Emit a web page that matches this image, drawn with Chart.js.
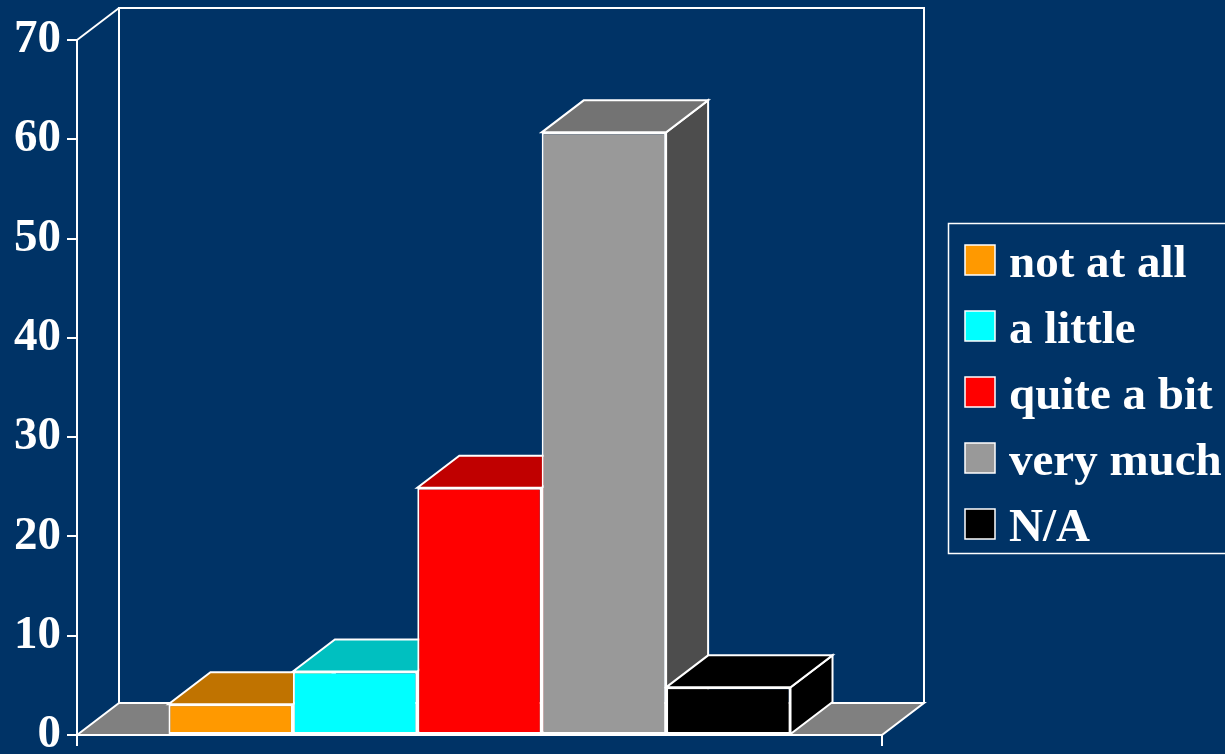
<!DOCTYPE html>
<html>
<head>
<meta charset="utf-8">
<script src="https://cdn.jsdelivr.net/npm/chart.js@4.4.0/dist/chart.umd.min.js"></script>
<style>
  html, body { margin: 0; padding: 0; background: #003366; }
  #wrap { width: 1225px; height: 754px; }
</style>
</head>
<body>
<div id="wrap"><canvas id="chart" width="1225" height="754"></canvas></div>
<script>
// data
const categories = ['not at all', 'a little', 'quite a bit', 'very much', 'N/A'];
const values = [3.1, 6.4, 24.9, 60.7, 4.8];
const yMin = 0;
const yMax = 70;
const yStep = 10;

// colours: front / top / side for each series
const frontColors = ['#ff9900', '#00ffff', '#ff0000', '#999999', '#000000'];
const topColors = ['#c07300', '#00c0c0', '#c00000', '#737373', '#000000'];
const sideColors = ['#804c00', '#008080', '#800000', '#4d4d4d', '#000000'];
const floorColor = '#808080';

// depth of the 3d box
const DX = 42;
const DY = -32;

function poly(ctx, pts, fill) {
  ctx.beginPath();
  ctx.moveTo(pts[0][0], pts[0][1]);
  for (let i = 1; i < pts.length; i++) ctx.lineTo(pts[i][0], pts[i][1]);
  ctx.closePath();
  ctx.fillStyle = fill;
  ctx.fill();
  ctx.stroke();
}

// walls, floor and the top/side faces of the bars
const depthPlugin = {
  id: 'depth3d',
  beforeDatasetsDraw(chart) {
    const ctx = chart.ctx;
    const a = chart.chartArea;
    const y0 = chart.scales.y.getPixelForValue(yMin);
    ctx.save();
    ctx.strokeStyle = '#ffffff';
    ctx.lineWidth = 2;
    ctx.lineJoin = 'miter';

    ctx.beginPath();
    ctx.moveTo(a.left + DX, y0 + DY);
    ctx.lineTo(a.left + DX, a.top + DY);
    ctx.lineTo(a.right + DX, a.top + DY);
    ctx.lineTo(a.right + DX, y0 + DY);
    ctx.stroke();

    ctx.beginPath();
    ctx.moveTo(a.left, a.top);
    ctx.lineTo(a.left + DX, a.top + DY);
    ctx.stroke();

    poly(ctx, [[a.left, y0], [a.left + DX, y0 + DY], [a.right + DX, y0 + DY], [a.right, y0]], floorColor);

    chart.data.datasets.forEach((ds, i) => {
      const meta = chart.getDatasetMeta(i);
      meta.data.forEach(bar => {
        const p = bar.getProps(['x', 'y', 'width', 'base'], true);
        const l = p.x - p.width / 2;
        const r = p.x + p.width / 2;
        poly(ctx, [[r, p.base], [r, p.y], [r + DX, p.y + DY], [r + DX, p.base + DY]], sideColors[i]);
        poly(ctx, [[l, p.y], [r, p.y], [r + DX, p.y + DY], [l + DX, p.y + DY]], topColors[i]);
      });
    });
    ctx.restore();
  }
};

// boxed legend on the right
const legendPlugin = {
  id: 'boxLegend',
  afterDraw(chart) {
    const ctx = chart.ctx;
    ctx.save();
    ctx.strokeStyle = '#ffffff';
    ctx.lineWidth = 1.5;
    ctx.strokeRect(948.5, 223.5, 300, 330);
    ctx.font = 'bold 47px "Liberation Serif", "Times New Roman", serif';
    ctx.textBaseline = 'alphabetic';
    ctx.textAlign = 'left';
    chart.data.datasets.forEach((ds, i) => {
      const cy = 260 + i * 66;
      ctx.fillStyle = ds.backgroundColor;
      ctx.fillRect(965, cy - 15, 30, 30);
      ctx.lineWidth = 1.5;
      ctx.strokeRect(965, cy - 15, 30, 30);
      ctx.fillStyle = '#ffffff';
      ctx.fillText(ds.label, 1009, cy + 17);
    });
    ctx.restore();
  }
};

const datasets = categories.map((name, i) => ({
  label: name,
  data: [values[i]],
  backgroundColor: frontColors[i],
  borderColor: '#ffffff',
  borderWidth: 2,
  borderSkipped: false,
  barPercentage: 1,
  categoryPercentage: 0.7727
}));

new Chart(document.getElementById('chart'), {
  type: 'bar',
  data: { labels: [''], datasets: datasets },
  options: {
    responsive: false,
    animation: false,
    layout: { padding: { top: 40, right: 343, bottom: 0, left: 0 } },
    plugins: {
      legend: { display: false },
      tooltip: { enabled: false }
    },
    scales: {
      x: {
        offset: true,
        grid: { offset: true, drawOnChartArea: false, color: '#ffffff', lineWidth: 2, tickLength: 11 },
        border: { color: '#ffffff', width: 2 },
        ticks: { display: true, font: { size: 1 } },
        afterFit: s => { s.height = 19; s.paddingLeft = 0; s.paddingRight = 0; }
      },
      y: {
        min: yMin,
        max: yMax,
        ticks: {
          stepSize: yStep,
          color: '#ffffff',
          padding: 6,
          font: { family: '"Liberation Serif", "Times New Roman", serif', size: 47, weight: 'bold' }
        },
        grid: { drawOnChartArea: false, color: '#ffffff', lineWidth: 2, tickLength: 10 },
        border: { color: '#ffffff', width: 2 },
        afterFit: s => { s.width = 77; s.paddingTop = 0; s.paddingBottom = 0; }
      }
    }
  },
  plugins: [depthPlugin, legendPlugin]
});
</script>
</body>
</html>
